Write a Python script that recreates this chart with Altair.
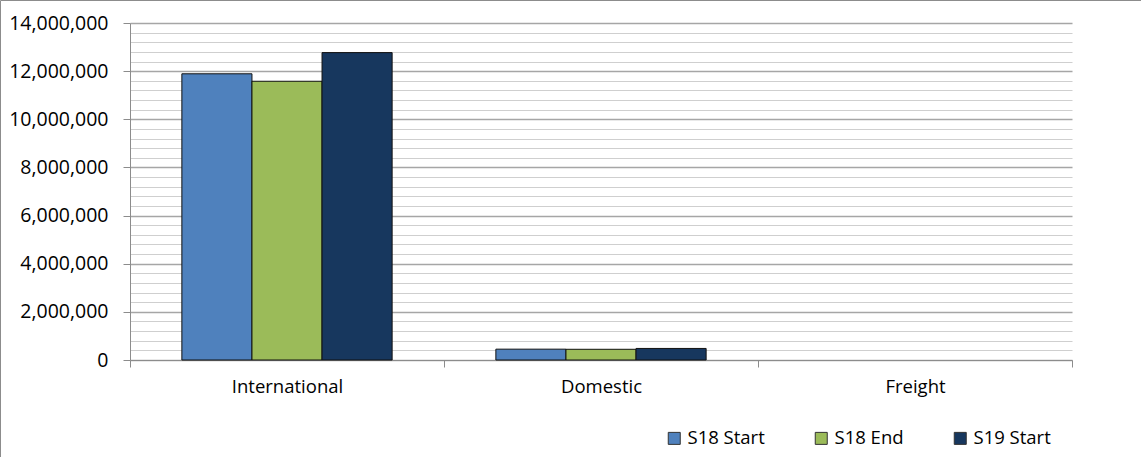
import altair as alt
import pandas as pd

categories = ["International", "Domestic", "Freight"]
series = ["S18 Start", "S18 End", "S19 Start"]
s18_start = [11890000, 450000, 0]
s18_end = [11580000, 445000, 0]
s19_start = [12770000, 480000, 0]
colors = ["#4F81BD", "#9BBB59", "#17375E"]
y_ticks = list(range(0, 14000001, 400000))

rows = []
for i, c in enumerate(categories):
    for s, vals in zip(series, [s18_start, s18_end, s19_start]):
        rows.append({"category": c, "series": s, "value": vals[i]})
df = pd.DataFrame(rows)

FONT = "Open Sans"
FS = 18.5
FSY = 19.5

bars = alt.Chart(df).mark_bar(stroke="#111111", strokeWidth=1).encode(
    x=alt.X("category:N", sort=categories, title=None,
            scale=alt.Scale(paddingInner=0, paddingOuter=0),
            axis=alt.Axis(labelAngle=0, tickBand="extent", labelFontSize=FS,
                          labelFont=FONT, labelColor="#000000", labelPadding=10,
                          domainColor="#8c8c8c", tickColor="#8c8c8c", tickSize=7,
                          grid=False)),
    xOffset=alt.XOffset("series:N", sort=series,
                        scale=alt.Scale(paddingInner=0, paddingOuter=0.74)),
    y=alt.Y("value:Q", title=None,
            scale=alt.Scale(domain=[0, 14000000], nice=False),
            axis=alt.Axis(values=y_ticks,
                          labelExpr="datum.value % 2000000 === 0 ? format(datum.value, ',') : ''",
                          labelFontSize=FSY, labelFont=FONT, labelColor="#000000",
                          labelPadding=15, tickSize=7,
                          tickColor={"condition": {"test": "datum.value % 2000000 === 0", "value": "#8c8c8c"}, "value": "rgba(0,0,0,0)"},
                          gridColor={"condition": {"test": "datum.value % 2000000 === 0", "value": "#a6a6a6"}, "value": "#cfcfcf"},
                          gridWidth={"condition": {"test": "datum.value % 2000000 === 0", "value": 1.5}, "value": 1},
                          domainColor="#8c8c8c", grid=True)),
    strokeOpacity=alt.condition("datum.value > 0", alt.value(1), alt.value(0)),
    color=alt.Color("series:N", sort=series,
                    scale=alt.Scale(domain=series, range=colors),
                    legend=alt.Legend(title=None, orient="none", direction="horizontal",
                                      legendX=535, legendY=406, symbolType="square",
                                      symbolSize=144, symbolStrokeColor="#333333",
                                      symbolStrokeWidth=1, labelFontSize=FS,
                                      labelFont=FONT, labelColor="#000000",
                                      columnPadding=47, labelOffset=4, padding=0)),
)

border = alt.Chart(pd.DataFrame({"a": [0]})).mark_rect(
    fill=None, stroke="#8c8c8c", strokeWidth=1
).encode(
    x=alt.value(-129.5), x2=alt.value(1200), y=alt.value(-22.5), y2=alt.value(600)
)

chart = alt.layer(border, bars).properties(
    width=942, height=337,
    autosize=alt.AutoSizeParams(type="none"),
    padding={"left": 130, "top": 23, "right": 69, "bottom": 97},
    background="white",
).configure_view(stroke=None)

chart.save("out.html", embed_options={"renderer": "svg", "actions": False})
